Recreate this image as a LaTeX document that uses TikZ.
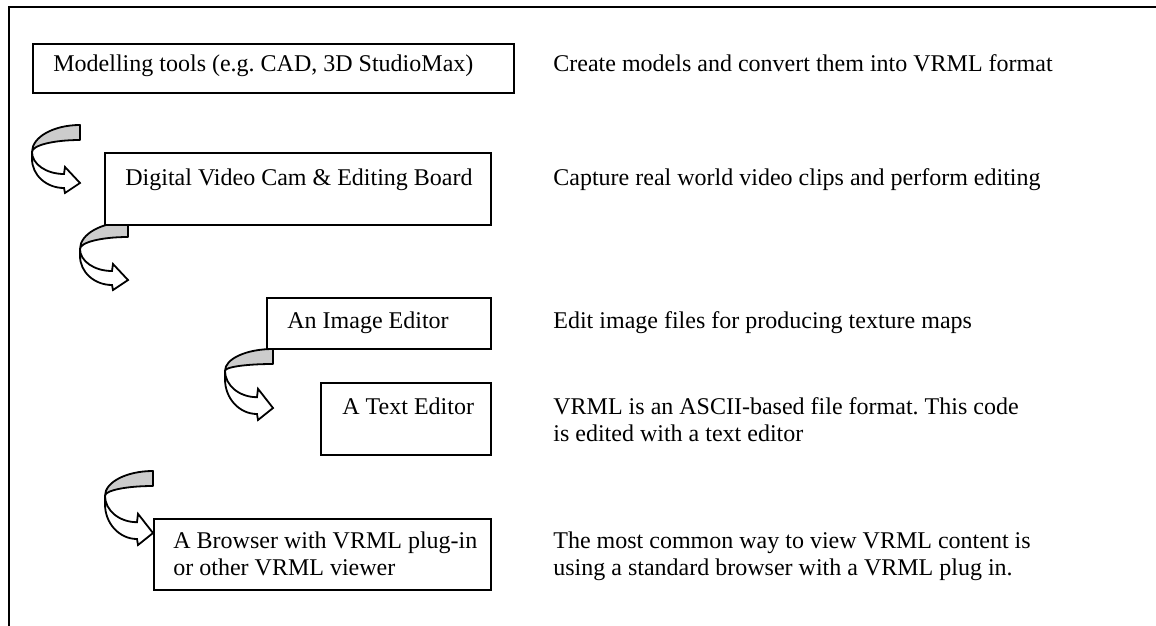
\documentclass[tikz,border=0pt]{standalone}
\usepackage{fontspec}
\setmainfont{Liberation Serif}
\frenchspacing
\usetikzlibrary{positioning}
\tikzstyle{frame} = [line width=0.9pt]
\tikzstyle{box} = [draw, fill=white, line width=0.9pt, anchor=north west, inner sep=0pt]
\tikzstyle{note} = [anchor=base west, inner sep=0pt, font=\fontsize{12}{13.5}\selectfont]
\tikzstyle{back} = [fill=gray!40, draw, line width=0.9pt, line join=round]
\tikzstyle{front} = [fill=white, draw, line width=0.9pt, line join=miter]
% curved arrow: #1 tip, #2 height of the tail over the tip, #3 size of the head part
\newcommand{\bendarrow}[3]{%
  \begin{scope}[shift={(#1)}]
    \pgfmathsetmacro{\bendc}{31*#3}
    \path[back] (0,-#2) arc[start angle=270, end angle=180, x radius=48, y radius=#2-\bendc]
      arc[start angle=180, end angle=270, x radius=48, y radius=#2-15-\bendc] -- cycle;
    \path[front, yscale=#3] (-48,-31) -- (-48,-24) arc[start angle=180, end angle=90, x radius=32, y radius=29]
      -- (-15,10) -- (0,0) -- (-15,-16) -- (-16,-9)
      arc[start angle=90, end angle=180, x radius=32, y radius=22] -- cycle;
  \end{scope}}

\begin{document}
\begin{tikzpicture}[x=0.5pt, y=-0.5pt]
  \useasboundingbox (0,0) rectangle (1156,626);
  \draw[frame] (9,626) |- (1156,7);

  % curved arrows
  \bendarrow{80,183}{58}{1}
  \bendarrow{128,280}{58}{1}
  \bendarrow{273,408}{59}{1.2}
  \bendarrow{153,533}{62}{1.2}

  % tools
  \node[box, minimum width=240.5pt, minimum height=24.5pt] (model)   at (32,43)   {};
  \node[box, minimum width=193pt,   minimum height=36pt]   (cam)     at (104,152) {};
  \node[box, minimum width=112pt,   minimum height=25.5pt] (image)   at (266,297) {};
  \node[box, minimum width=85pt,    minimum height=36pt]   (text)    at (320,382) {};
  \node[box, minimum width=168.5pt, minimum height=35.5pt] (browser) at (153,518) {};

  \node[note] (modeltxt)    at ([shift={(21,29)}]model.north west)   {Modelling tools (e.g. CAD, 3D StudioMax)};
  \node[note] (camtxt)      at ([shift={(21,33)}]cam.north west)     {Digital Video Cam \& Editing Board};
  \node[note] (imagetxt)    at ([shift={(21,31)}]image.north west)   {An Image Editor};
  \node[note] (texttxt)     at ([shift={(22,32)}]text.north west)    {A Text Editor};
  \node[note] (browsertxt)  at ([shift={(20,30)}]browser.north west) {A Browser with VRML plug-in};
  \node[note] (browsertxt2) at ([shift={(20,57)}]browser.north west) {or other VRML viewer};

  % what each one is for
  \node[note] (modelnote)    at (553,72)  {Create models and convert them into VRML format};
  \node[note] (camnote)      at (553,185) {Capture real world video clips and perform editing};
  \node[note] (imagenote)    at (553,328) {Edit image files for producing texture maps};
  \node[note] (textnote)     at (553,414) {VRML is an ASCII-based file format. This code};
  \node[note] (textnote2)    at (553,441) {is edited with a text editor};
  \node[note] (browsernote)  at (553,548) {The most common way to view VRML content is};
  \node[note] (browsernote2) at (553,575) {using a standard browser with a VRML plug in.};
\end{tikzpicture}
\end{document}
